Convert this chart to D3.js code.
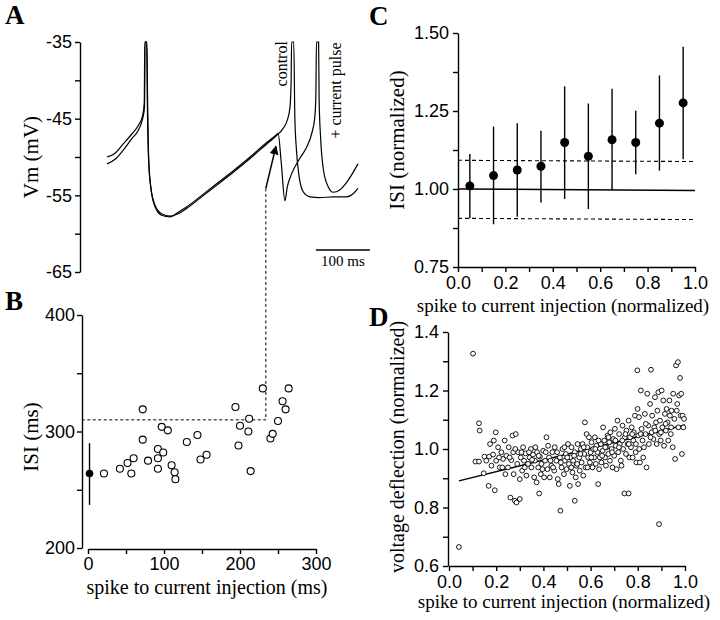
<!DOCTYPE html>
<html lang="en">

<head>
	<meta charset="utf-8">
	<title>ISI vs current injection</title>
	<style>
		body { margin: 0; background: #fff; }
		svg { display: block; font-family: "Liberation Serif", serif; }
		.tick line, .domain { stroke: #000; stroke-width: 1.4; }
		.tick text { font-size: 18px; fill: #000; }
	</style>
</head>

<body>
	<script src="https://cdn.jsdelivr.net/npm/d3@7"></script>
	<script>
		// panel A: membrane potential traces [time ms, Vm mV]
		const traceControl = [[0, -50.0], [15, -49.5], [30, -48.3], [46, -47.0], [58, -45.9], [66, -44.6], [69, -43.0], [70, -35],
			[73.5, -35], [74.7, -42.6], [77, -50.4], [81, -53.9], [89, -56.3], [101, -57.4], [117, -57.7], [132, -57.4],
			[148, -56.7], [172, -55.4], [203, -53.7], [234, -52.0], [265, -50.2], [296, -48.3], [314, -47.2], [326, -46.3],
			[334, -45.2], [339, -43.5], [341, -40.4], [342, -35], [346, -35], [348, -44.8], [351, -49.1], [356, -52.6],
			[364, -54.6], [376, -55.2], [394, -55.3], [419, -55.2], [444, -55.2], [456, -54.8], [465, -54.1]];
		const tracePulse = [[0, -50.9], [15, -50.3], [30, -49.1], [46, -47.6], [58, -46.5], [66, -45.0], [69.5, -43.5], [70.5, -35],
			[74, -35], [75.2, -42.6], [77.5, -50.6], [81.5, -54.1], [89, -56.5], [101, -57.6], [117, -57.8], [132, -57.2],
			[148, -56.5], [172, -55.2], [203, -53.5], [234, -51.8], [265, -50.0], [296, -48.1], [314, -47.1], [317, -46.9],
			[323, -50.9], [329.6, -55.7], [334, -53.9], [342, -52.2], [357, -50.2], [370, -48.7], [379, -47.0], [385, -44.8],
			[387, -41.7], [388, -35], [392, -35], [393, -42.6], [396, -47.8], [401, -51.7], [410, -53.9], [419, -54.6],
			[431, -54.3], [444, -53.3], [456, -52.0], [465, -50.9]];
		const aTicks = [-65, -60, -55, -50, -45, -40, -35];

		// panel B: ISI (ms) vs spike to current injection (ms)
		const bX = [21, 42, 52, 57, 60, 72, 72, 79, 92, 92, 92, 97, 99, 105, 110, 114, 115, 130, 144, 148, 156,
			194, 198, 200, 211, 212, 214, 230, 240, 243, 250, 256, 260, 264];
		const bY = [264, 268, 273, 264, 277, 319, 293, 275, 277, 285, 268, 304, 282, 301, 271, 265, 259, 291, 297, 276, 280,
			321, 288, 305, 300, 311, 266, 337, 294, 298, 309, 326, 319, 337];
		const bCtrl = [2, 264, 237, 290]; // x, mean, low, high
		const bTicksX = [0, 50, 100, 150, 200, 250, 300];
		const bTicksY = [200, 250, 300, 350, 400];

		// link between A and B
		const linkMs = 234, linkVm = -54.1, linkIsi = 310, arrowTipT = 313, arrowTipVm = -48.6;

		// panel C: binned normalized ISI
		const cX = [0.05, 0.15, 0.25, 0.35, 0.45, 0.55, 0.65, 0.75, 0.85, 0.95];
		const cY = [1.010, 1.043, 1.061, 1.073, 1.149, 1.105, 1.158, 1.149, 1.211, 1.276];
		const cLo = [0.906, 0.887, 0.911, 0.957, 0.968, 0.936, 0.997, 1.047, 1.059, 1.095];
		const cHi = [1.112, 1.200, 1.211, 1.187, 1.329, 1.274, 1.321, 1.251, 1.364, 1.456];
		const cMean = [1.0, 0.995];
		const cUpper = [1.092, 1.088];
		const cLower = [0.906, 0.902];
		const cTicksX = d3.range(0, 1.001, 0.1);
		const cTicksY = [0.75, 0.875, 1.0, 1.125, 1.25, 1.375, 1.5];

		// panel D: voltage deflection vs spike to current injection
		const dPoints = [[0.042, 0.665], [0.102, 1.326], [0.112, 0.957], [0.127, 0.957], [0.127, 1.088], [0.13, 1.063],
			[0.147, 0.917], [0.15, 0.974], [0.168, 0.874], [0.17, 0.974], [0.18, 0.943], [0.187, 0.981], [0.19, 1.029],
			[0.194, 0.859], [0.198, 1.057], [0.2, 0.96], [0.208, 1.006], [0.215, 0.937], [0.222, 0.989], [0.229, 0.966],
			[0.236, 1.029], [0.239, 0.914], [0.243, 0.977], [0.25, 0.937], [0.253, 1.006], [0.26, 0.834], [0.264, 0.962],
			[0.269, 1.046], [0.272, 0.989], [0.274, 0.914], [0.279, 0.823], [0.283, 1.051], [0.286, 0.817], [0.289, 0.949],
			[0.293, 0.989], [0.3, 0.829], [0.3, 0.897], [0.304, 0.971], [0.31, 0.926], [0.314, 1.006], [0.318, 0.96],
			[0.324, 0.985], [0.328, 0.909], [0.335, 0.949], [0.342, 0.971], [0.347, 1.0], [0.349, 0.937], [0.356, 0.981],
			[0.361, 0.903], [0.364, 0.96], [0.371, 0.886], [0.373, 0.989], [0.378, 0.937], [0.382, 0.848], [0.385, 0.974],
			[0.389, 0.914], [0.392, 0.949], [0.399, 0.994], [0.403, 0.903], [0.407, 0.96], [0.413, 1.04], [0.417, 0.931],
			[0.42, 1.011], [0.424, 0.971], [0.427, 0.903], [0.434, 0.943], [0.438, 0.989], [0.446, 0.926], [0.448, 1.006],
			[0.455, 0.96], [0.461, 0.897], [0.465, 0.88], [0.47, 0.971], [0.472, 0.789], [0.477, 0.937], [0.481, 1.0],
			[0.487, 0.914], [0.491, 0.96], [0.495, 0.983], [0.498, 0.931], [0.504, 1.017], [0.508, 0.949], [0.512, 0.874],
			[0.515, 0.971], [0.519, 1.006], [0.523, 0.92], [0.526, 0.96], [0.533, 0.823], [0.533, 0.989], [0.537, 0.903],
			[0.54, 0.943], [0.545, 1.017], [0.547, 0.88], [0.552, 0.971], [0.554, 0.926], [0.559, 1.0], [0.562, 0.954],
			[0.566, 1.017], [0.569, 0.909], [0.573, 0.983], [0.576, 1.091], [0.579, 0.937], [0.583, 1.051], [0.586, 1.006],
			[0.59, 0.971], [0.593, 1.04], [0.597, 0.954], [0.6, 0.989], [0.604, 1.023], [0.608, 0.937], [0.611, 1.0],
			[0.615, 0.971], [0.618, 1.04], [0.622, 0.949], [0.625, 1.011], [0.629, 0.989], [0.632, 0.88], [0.636, 0.931],
			[0.639, 0.971], [0.643, 1.017], [0.646, 0.954], [0.651, 0.994], [0.653, 1.074], [0.658, 1.029], [0.661, 0.971],
			[0.665, 0.943], [0.668, 1.006], [0.672, 1.046], [0.675, 0.983], [0.679, 1.023], [0.682, 0.96], [0.684, 1.057],
			[0.689, 1.0], [0.693, 0.937], [0.696, 1.034], [0.7, 0.977], [0.703, 1.069], [0.707, 1.011], [0.71, 0.931],
			[0.714, 1.097], [0.717, 0.989], [0.721, 1.051], [0.724, 1.017], [0.728, 0.96], [0.731, 0.943], [0.735, 1.08],
			[0.738, 1.0], [0.743, 0.848], [0.745, 1.04], [0.75, 0.983], [0.752, 1.063], [0.757, 1.017], [0.761, 0.848],
			[0.761, 1.097], [0.764, 0.971], [0.767, 1.04], [0.771, 1.006], [0.774, 1.074], [0.778, 0.971], [0.781, 1.029],
			[0.783, 1.057], [0.788, 1.114], [0.791, 0.989], [0.794, 0.954], [0.798, 1.269], [0.799, 1.137], [0.802, 1.046],
			[0.805, 1.109], [0.806, 1.0], [0.809, 0.954], [0.813, 1.2], [0.816, 1.069], [0.82, 1.029], [0.823, 0.971],
			[0.826, 1.006], [0.83, 1.12], [0.833, 1.051], [0.837, 0.937], [0.84, 1.189], [0.844, 1.08], [0.847, 1.017],
			[0.852, 1.154], [0.856, 1.271], [0.859, 1.057], [0.861, 1.114], [0.866, 1.034], [0.87, 1.074], [0.873, 1.177],
			[0.877, 1.091], [0.88, 1.017], [0.883, 1.131], [0.887, 1.194], [0.89, 0.743], [0.891, 1.051], [0.894, 1.097],
			[0.897, 1.029], [0.901, 1.2], [0.904, 1.074], [0.908, 1.166], [0.911, 1.011], [0.915, 1.12], [0.919, 1.063],
			[0.922, 1.137], [0.926, 1.091], [0.929, 1.029], [0.934, 1.166], [0.936, 1.114], [0.941, 1.074], [0.943, 1.131],
			[0.948, 1.006], [0.95, 1.189], [0.955, 1.103], [0.958, 0.966], [0.962, 1.286], [0.965, 1.131], [0.967, 1.154],
			[0.97, 1.297], [0.972, 1.074], [0.975, 1.183], [0.979, 1.243], [0.982, 1.114], [0.984, 1.189], [0.987, 0.983],
			[0.99, 1.114], [0.993, 1.074], [0.996, 1.103],
			[0.158, 0.96], [0.174, 1.017], [0.212, 0.971], [0.226, 0.937], [0.257, 0.971], [0.281, 1.0], [0.307, 0.989],
			[0.321, 0.937], [0.339, 0.989], [0.352, 0.963], [0.366, 1.006], [0.38, 0.977], [0.396, 0.931], [0.41, 0.989],
			[0.43, 0.96], [0.441, 0.937], [0.458, 0.989], [0.474, 0.954], [0.489, 1.006], [0.501, 0.971], [0.518, 0.937],
			[0.53, 0.977], [0.543, 0.949], [0.557, 0.983], [0.571, 1.006], [0.587, 0.937], [0.603, 0.971], [0.62, 1.0],
			[0.634, 1.029], [0.649, 0.977], [0.662, 1.006], [0.676, 1.04], [0.691, 0.989], [0.705, 1.029], [0.72, 1.006],
			[0.734, 1.029], [0.748, 1.051], [0.762, 1.017], [0.776, 1.051], [0.792, 1.017], [0.812, 1.051], [0.834, 1.086],
			[0.854, 1.04], [0.874, 1.063], [0.898, 1.057], [0.918, 1.086], [0.94, 1.051]];
		const dFit = [[0.042, 0.891], [1.0, 1.082]];
		const dTicksX = d3.range(0, 1.001, 0.1);
		const dTicksY = [0.6, 0.7, 0.8, 0.9, 1.0, 1.1, 1.2, 1.3, 1.4];

		const svg = d3.select(document.body)
			.append("svg")
			.attr("width", 720)
			.attr("height", 620);

		svg.append("rect").attr("width", 720).attr("height", 620).attr("fill", "#fff");

		const xA = d3.scaleLinear().domain([0, 465]).range([107, 358]);
		const yA = d3.scaleLinear().domain([-65, -35]).range([272, 42]);
		const xB = d3.scaleLinear().domain([0, 300]).range([88, 316]);
		const yB = d3.scaleLinear().domain([200, 400]).range([548, 315]);
		const xC = d3.scaleLinear().domain([0, 1]).range([458, 695]);
		const yC = d3.scaleLinear().domain([0.75, 1.5]).range([267, 33]);
		const xD = d3.scaleLinear().domain([0, 1]).range([449, 685]);
		const yD = d3.scaleLinear().domain([0.6, 1.4]).range([566, 332]);

		function letter(x, y, t) {
			svg.append("text").attr("x", x).attr("y", y)
				.attr("font-size", 27).attr("font-weight", "bold").text(t);
		}

		function title(x, y, t, size, rotate) {
			svg.append("text")
				.attr("transform", "translate(" + x + "," + y + ")" + (rotate ? " rotate(-90)" : ""))
				.attr("text-anchor", "middle")
				.attr("font-size", size)
				.text(t);
		}

		// ---------- A ----------
		letter(5, 24, "A");
		svg.append("g")
			.attr("transform", "translate(80,0)")
			.call(d3.axisLeft(yA).tickValues(aTicks).tickSize(5).tickSizeOuter(0).tickPadding(3)
				.tickFormat(function (d) { return d % 10 === 5 || d % 10 === -5 ? d : ""; }));
		title(38, 157, "Vm (mV)", 21, true);

		const lineA = d3.line()
			.x(function (d) { return xA(d[0]); })
			.y(function (d) { return yA(d[1]); })
			.curve(d3.curveMonotoneX);

		[traceControl, tracePulse].forEach(function (tr) {
			svg.append("path")
				.attr("d", lineA(tr))
				.attr("fill", "none")
				.attr("stroke", "#000")
				.attr("stroke-width", 1.2);
		});

		svg.append("text")
			.attr("transform", "translate(" + xA(333) + "," + yA(-40.8) + ") rotate(-90)")
			.attr("font-size", 16).text("control");
		svg.append("text")
			.attr("transform", "translate(" + xA(433) + "," + yA(-47.6) + ") rotate(-90)")
			.attr("font-size", 16).text("+ current pulse");

		// scale bar 100 ms
		svg.append("line")
			.attr("x1", xA(387)).attr("x2", xA(487))
			.attr("y1", 250).attr("y2", 250)
			.attr("stroke", "#000").attr("stroke-width", 1.4);
		svg.append("text")
			.attr("x", xA(437)).attr("y", 266)
			.attr("text-anchor", "middle")
			.attr("font-size", 15).text("100 ms");

		// arrow marking the current pulse
		svg.append("defs").append("marker")
			.attr("id", "head")
			.attr("viewBox", "0 0 10 10")
			.attr("refX", 9).attr("refY", 5)
			.attr("markerWidth", 9).attr("markerHeight", 9)
			.attr("markerUnits", "userSpaceOnUse")
			.attr("orient", "auto")
			.append("path").attr("d", "M0,0L10,5L0,10z").attr("fill", "#000");

		svg.append("line")
			.attr("x1", xB(linkMs)).attr("y1", yA(linkVm))
			.attr("x2", xA(arrowTipT)).attr("y2", yA(arrowTipVm))
			.attr("stroke", "#000").attr("stroke-width", 1.5)
			.attr("marker-end", "url(#head)");

		// dashed link from A into B
		svg.append("path")
			.attr("d", "M" + xB(linkMs) + "," + yA(linkVm) + "V" + yB(linkIsi) + "H" + 82)
			.attr("fill", "none")
			.attr("stroke", "#000")
			.attr("stroke-width", 1)
			.attr("stroke-dasharray", "3,2.5");

		// ---------- B ----------
		letter(5, 310, "B");
		svg.append("g")
			.attr("transform", "translate(82,0)")
			.call(d3.axisLeft(yB).tickValues(bTicksY).tickSize(5).tickSizeOuter(0).tickPadding(2)
				.tickFormat(function (d) { return d % 100 === 0 ? d : ""; }));
		svg.append("g")
			.attr("transform", "translate(0,549)")
			.call(d3.axisBottom(xB).tickValues(bTicksX).tickSize(5).tickSizeOuter(0).tickPadding(3)
				.tickFormat(function (d) { return d % 100 === 0 ? d : ""; }));
		title(38, 437, "ISI (ms)", 21, true);
		title(207, 594, "spike to current injection (ms)", 20, false);

		svg.append("line")
			.attr("x1", xB(bCtrl[0])).attr("x2", xB(bCtrl[0]))
			.attr("y1", yB(bCtrl[2])).attr("y2", yB(bCtrl[3]))
			.attr("stroke", "#000").attr("stroke-width", 1.4);
		svg.append("circle")
			.attr("cx", xB(bCtrl[0])).attr("cy", yB(bCtrl[1]))
			.attr("r", 3.8).attr("fill", "#000");

		svg.append("g").selectAll("circle")
			.data(bX)
			.join("circle")
			.attr("cx", function (d) { return xB(d); })
			.attr("cy", function (d, i) { return yB(bY[i]); })
			.attr("r", 3.5)
			.attr("fill", "#fff")
			.attr("stroke", "#000")
			.attr("stroke-width", 1.1);

		// ---------- C ----------
		letter(369, 25, "C");
		svg.append("g")
			.attr("transform", "translate(458,0)")
			.call(d3.axisLeft(yC).tickValues(cTicksY).tickSize(5).tickSizeOuter(0).tickPadding(4)
				.tickFormat(function (d) { return Math.abs(d * 4 - Math.round(d * 4)) < 1e-9 ? d3.format(".2f")(d) : ""; }));
		svg.append("g")
			.attr("transform", "translate(0,267)")
			.call(d3.axisBottom(xC).tickValues(cTicksX).tickSize(5).tickSizeOuter(0).tickPadding(4)
				.tickFormat(function (d, i) { return i % 2 === 0 ? d3.format(".1f")(d) : ""; }));
		title(404, 140, "ISI (normalized)", 21, true);
		title(563, 312, "spike to current injection (normalized)", 19, false);

		function hline(y0, y1, dash) {
			svg.append("line")
				.attr("x1", xC(0)).attr("x2", xC(1))
				.attr("y1", yC(y0)).attr("y2", yC(y1))
				.attr("stroke", "#000")
				.attr("stroke-width", dash ? 1.1 : 1.5)
				.attr("stroke-dasharray", dash ? "4,3" : null);
		}
		hline(cMean[0], cMean[1], false);
		hline(cUpper[0], cUpper[1], true);
		hline(cLower[0], cLower[1], true);

		const gC = svg.append("g");
		gC.selectAll("line")
			.data(cX)
			.join("line")
			.attr("x1", function (d) { return xC(d); })
			.attr("x2", function (d) { return xC(d); })
			.attr("y1", function (d, i) { return yC(cLo[i]); })
			.attr("y2", function (d, i) { return yC(cHi[i]); })
			.attr("stroke", "#000")
			.attr("stroke-width", 1.4);
		gC.selectAll("circle")
			.data(cX)
			.join("circle")
			.attr("cx", function (d) { return xC(d); })
			.attr("cy", function (d, i) { return yC(cY[i]); })
			.attr("r", 4.5)
			.attr("fill", "#000");

		// ---------- D ----------
		letter(369, 326, "D");
		svg.append("g")
			.attr("transform", "translate(448,0)")
			.call(d3.axisLeft(yD).tickValues(dTicksY).tickSize(5).tickSizeOuter(0).tickPadding(4)
				.tickFormat(function (d, i) { return i % 2 === 0 ? d3.format(".1f")(d) : ""; }));
		svg.append("g")
			.attr("transform", "translate(0,566)")
			.call(d3.axisBottom(xD).tickValues(dTicksX).tickSize(5).tickSizeOuter(0).tickPadding(4)
				.tickFormat(function (d, i) { return i % 2 === 0 ? d3.format(".1f")(d) : ""; }));
		title(404, 447, "voltage deflection (normalized)", 20, true);
		title(564, 608, "spike to current injection (normalized)", 19, false);

		svg.append("path")
			.attr("d", d3.line()
				.x(function (d) { return xD(d[0]); })
				.y(function (d) { return yD(d[1]); })(dFit))
			.attr("stroke", "#000")
			.attr("stroke-width", 1.5);

		svg.append("g").selectAll("circle")
			.data(dPoints)
			.join("circle")
			.attr("cx", function (d) { return xD(d[0]); })
			.attr("cy", function (d) { return yD(d[1]); })
			.attr("r", 2.4)
			.attr("fill", "#fff")
			.attr("stroke", "#000")
			.attr("stroke-width", 0.9);
	</script>
</body>

</html>
